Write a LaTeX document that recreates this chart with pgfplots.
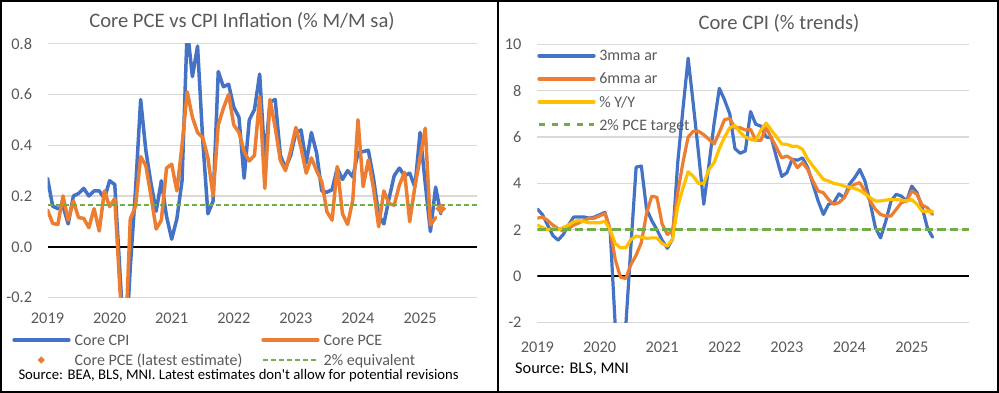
\documentclass[border=0pt]{standalone}
\usepackage{fontspec}
\setmainfont{Carlito}
\usepackage{pgfplots}
\pgfplotsset{compat=1.18}
\usepackage{pgfplotstable}

\definecolor{xblue}{HTML}{4472C4}
\definecolor{xorange}{HTML}{ED7D31}
\definecolor{xyellow}{HTML}{FFC000}
\definecolor{xgreen}{HTML}{70AD47}
\definecolor{xgrid}{HTML}{D9D9D9}
\definecolor{xtext}{HTML}{595959}

% Left chart: Core CPI m/m
\pgfplotstableread{
m v
0 0.27
1 0.16
2 0.15
3 0.16
4 0.09
5 0.20
6 0.21
7 0.23
8 0.20
9 0.22
10 0.22
11 0.19
12 0.26
13 0.245
14 -0.10
15 -0.45
16 -0.08
17 0.22
18 0.58
19 0.38
20 0.25
21 0.14
22 0.26
23 0.12
24 0.03
25 0.11
26 0.26
27 0.86
28 0.67
29 0.79
30 0.42
31 0.13
32 0.18
33 0.69
34 0.63
35 0.64
36 0.55
37 0.51
38 0.27
39 0.50
40 0.54
41 0.68
42 0.34
43 0.57
44 0.58
45 0.36
46 0.31
47 0.36
48 0.45
49 0.46
50 0.33
51 0.45
52 0.37
53 0.22
54 0.215
55 0.225
56 0.31
57 0.265
58 0.30
59 0.275
60 0.37
61 0.375
62 0.38
63 0.27
64 0.125
65 0.09
66 0.19
67 0.28
68 0.31
69 0.28
70 0.29
71 0.235
72 0.45
73 0.25
74 0.06
75 0.235
76 0.13
}\cpiL

% Left chart: Core PCE m/m
\pgfplotstableread{
m v
0 0.145
1 0.092
2 0.088
3 0.20
4 0.105
5 0.18
6 0.115
7 0.112
8 0.075
9 0.15
10 0.062
11 0.22
12 0.158
13 0.19
14 -0.17
15 -0.40
16 0.11
17 0.158
18 0.355
19 0.32
20 0.20
21 0.07
22 0.105
23 0.31
24 0.325
25 0.22
26 0.40
27 0.61
28 0.51
29 0.45
30 0.43
31 0.35
32 0.20
33 0.48
34 0.546
35 0.60
36 0.48
37 0.45
38 0.375
39 0.338
40 0.36
41 0.59
42 0.23
43 0.58
44 0.47
45 0.34
46 0.30
47 0.38
48 0.47
49 0.39
50 0.29
51 0.35
52 0.30
53 0.257
54 0.138
55 0.105
56 0.316
57 0.13
58 0.088
59 0.184
60 0.50
61 0.237
62 0.342
63 0.23
64 0.079
65 0.22
66 0.17
67 0.164
68 0.243
69 0.293
70 0.099
71 0.237
72 0.35
73 0.467
74 0.086
75 0.115
}\pceL

% Right chart: 3mma ar, 6mma ar, y/y
\pgfplotstableread{
m b o y
0 2.9 2.5 2.2
1 2.65 2.55 2.1
2 2.2 2.4 2.0
3 1.75 2.2 2.05
4 1.55 2.05 2.0
5 1.8 1.95 2.1
6 2.2 2.05 2.2
7 2.55 2.2 2.35
8 2.55 2.3 2.4
9 2.55 2.4 2.35
10 2.5 2.5 2.3
11 2.55 2.5 2.3
12 2.65 2.6 2.3
13 2.75 2.7 2.37
14 2.0 2.0 2.0
15 -2.2 0.7 1.4
16 -3.3 -0.05 1.22
17 -2.2 -0.1 1.22
18 1.3 0.5 1.58
19 4.7 0.9 1.73
20 4.75 1.45 1.68
21 2.9 2.7 1.63
22 2.4 3.45 1.65
23 2.0 3.4 1.65
24 1.55 2.25 1.4
25 1.2 1.8 1.3
26 1.6 1.95 1.6
27 4.9 3.6 3.0
28 7.2 4.9 3.8
29 9.4 6.0 4.5
30 7.4 6.25 4.3
31 5.3 6.25 4.0
32 3.1 6.1 4.0
33 4.8 5.9 4.6
34 6.6 5.7 4.9
35 8.1 6.2 5.5
36 7.6 6.75 6.0
37 7.0 6.8 6.4
38 5.5 6.4 6.5
39 5.3 6.4 6.2
40 5.4 6.3 6.0
41 7.1 6.33 5.9
42 6.55 5.86 5.85
43 6.47 5.86 6.3
44 6.0 6.4 6.6
45 5.97 5.97 6.3
46 5.1 5.54 6.0
47 4.3 5.1 5.7
48 4.46 5.18 5.68
49 5.04 5.04 5.6
50 5.0 4.68 5.6
51 5.1 4.9 5.47
52 4.68 4.6 5.04
53 3.96 4.1 4.75
54 3.24 3.67 4.46
55 2.66 3.6 4.17
56 3.1 3.3 4.1
57 3.17 3.1 4.0
58 3.55 3.17 3.96
59 3.38 3.38 3.88
60 3.96 3.8 3.84
61 4.24 3.96 3.78
62 4.6 4.03 3.7
63 4.1 3.67 3.55
64 3.17 3.24 3.38
65 2.09 2.88 3.24
66 1.65 2.66 3.24
67 2.37 2.59 3.28
68 3.24 2.59 3.3
69 3.53 2.88 3.3
70 3.45 3.17 3.28
71 3.24 3.24 3.24
72 3.88 3.67 3.3
73 3.6 3.53 3.1
74 2.95 3.06 2.8
75 2.09 2.95 2.8
76 1.68 2.66 2.8
}\trendR

\pgfplotsset{
  chartbase/.style={
    scale only axis,
    xmin=0, xmax=83,
    axis line style={draw=none},
    major tick length=0pt,
    xtick={0,12,24,36,48,60,72},
    xticklabels={2019,2020,2021,2022,2023,2024,2025},
    ymajorgrids,
    grid style={xgrid, line width=1.3pt},
    tick label style={font=\fontsize{16.3}{19}\selectfont, text=xtext, inner sep=0pt},
    /pgf/number format/assume math mode=true,
  },
}

\begin{document}
\begin{tikzpicture}[x=1pt,y=1pt]

% ---------------- Left chart ----------------
\begin{axis}[chartbase,
  at={(47.5pt,95.4pt)}, anchor=south west,
  width=429.5pt, height=254pt,
  ymin=-0.2, ymax=0.8,
  ytick={-0.2,0,0.2,0.4,0.6,0.8},
  yticklabels={-0.2,0.0,0.2,0.4,0.6,0.8},
  xticklabel style={anchor=base, yshift=-26pt},
  yticklabel style={anchor=east, xshift=-15.2pt},
  legend columns=2,
  legend style={at={(-0.08196,-0.13639)}, anchor=north west,
    draw=none, fill=none, inner sep=0pt, outer sep=0pt,
    row sep=4.2pt, column sep=0pt,
    font=\fontsize{16}{19}\selectfont, text=xtext,
    cells={anchor=west},
    nodes={inner sep=0pt, text height=13pt, text depth=2.7pt}},
]
\draw[black, line width=2.2pt] (axis cs:0,0) -- (axis cs:83,0);
\addplot[xblue, line width=3.5pt, line join=round, line cap=round,
  legend image code/.code={\draw[xblue, line width=4pt] (0pt,0pt) -- (54.4pt,0pt); \path[draw=none, fill=none] (0pt,0pt) -- (60.4pt,0pt);}]
  table[x=m, y=v] {\cpiL};
\addlegendentry{\makebox[186.6pt][l]{Core CPI}}
\addplot[xorange, line width=3.5pt, line join=round, line cap=round,
  legend image code/.code={\draw[xorange, line width=4pt] (0pt,0pt) -- (54.4pt,0pt); \path[draw=none, fill=none] (0pt,0pt) -- (60.4pt,0pt);}]
  table[x=m, y=v] {\pceL};
\addlegendentry{Core PCE}
\addplot[only marks, mark=square*, mark size=3.6pt, mark options={rotate=45, fill=xorange, draw=xorange},
  legend image code/.code={\fill[xorange, draw=none] (27pt,3.6pt) -- (30.6pt,0pt) -- (27pt,-3.6pt) -- (23.4pt,0pt) -- cycle; \path[draw=none, fill=none] (0pt,0pt) -- (60.4pt,0pt);}]
  coordinates {(76,0.15)};
\addlegendentry{\makebox[186.6pt][l]{Core PCE (latest estimate)}}
\addplot[xgreen, line width=1.7pt, dash pattern=on 5pt off 3pt,
  legend image code/.code={\draw[xgreen, line width=1.7pt, dash pattern=on 5pt off 3pt] (0pt,0pt) -- (54.4pt,0pt); \path[draw=none, fill=none] (0pt,0pt) -- (60.4pt,0pt);}]
  coordinates {(0,0.165) (83,0.165)};
\addlegendentry{2\% equivalent}
\end{axis}

% ---------------- Right chart ----------------
\begin{axis}[chartbase,
  at={(537.3pt,70.5pt)}, anchor=south west,
  width=431.7pt, height=278.2pt,
  ymin=-2, ymax=10,
  ytick={-2,0,2,4,6,8,10},
  yticklabels={-2,0,2,4,6,8,10},
  xticklabel style={anchor=base, yshift=-30.5pt},
  yticklabel style={anchor=east, xshift=-15.6pt},
  legend style={at={(0,0.98724)}, anchor=north west,
    draw=none, fill=none, inner sep=0pt, outer sep=0pt,
    row sep=7.4pt, column sep=0pt,
    font=\fontsize{16}{19}\selectfont, text=xtext,
    cells={anchor=west},
    nodes={inner sep=0pt, text height=13pt, text depth=2.7pt}},
]
\draw[black, line width=2.2pt] (axis cs:0,0) -- (axis cs:83,0);
\addplot[xblue, line width=3.2pt, line join=round, line cap=round,
  legend image code/.code={\draw[xblue, line width=4pt] (0pt,0pt) -- (54.4pt,0pt); \path[draw=none, fill=none] (0pt,0pt) -- (60pt,0pt);}]
  table[x=m, y=b] {\trendR};
\addlegendentry{3mma ar}
\addplot[xorange, line width=3.2pt, line join=round, line cap=round,
  legend image code/.code={\draw[xorange, line width=4pt] (0pt,0pt) -- (54.4pt,0pt); \path[draw=none, fill=none] (0pt,0pt) -- (60pt,0pt);}]
  table[x=m, y=o] {\trendR};
\addlegendentry{6mma ar}
\addplot[xyellow, line width=3.2pt, line join=round, line cap=round,
  legend image code/.code={\draw[xyellow, line width=4pt] (0pt,0pt) -- (54.4pt,0pt); \path[draw=none, fill=none] (0pt,0pt) -- (60pt,0pt);}]
  table[x=m, y=y] {\trendR};
\addlegendentry{\% Y/Y}
\addplot[xgreen, line width=3pt, dash pattern=on 8.5pt off 4pt,
  legend image code/.code={\draw[xgreen, line width=3pt, dash pattern=on 6pt off 6.5pt] (0pt,0pt) -- (54.4pt,0pt); \path[draw=none, fill=none] (0pt,0pt) -- (60pt,0pt);}]
  coordinates {(0,2) (83,2)};
\addlegendentry{2\% PCE target}
\end{axis}

% ---------------- Titles, sources, frames ----------------
\node[anchor=base, inner sep=0pt, font=\fontsize{20.6}{24}\selectfont, text=xtext] at (242pt,365.3pt) {Core PCE vs CPI Inflation (\% M/M sa)};
\node[anchor=base, inner sep=0pt, font=\fontsize{20.6}{24}\selectfont, text=xtext] at (779pt,363.7pt) {Core CPI (\% trends)};
\node[anchor=base west, inner sep=0pt, font=\fontsize{14.7}{17}\selectfont] at (18.3pt,13pt) {Source: BEA, BLS, MNI. Latest estimates don\textquotesingle t allow for potential revisions};
\node[anchor=base west, inner sep=0pt, font=\fontsize{16.3}{19}\selectfont] at (515pt,19pt) {Source: BLS, MNI};

\draw[black, line width=2.2pt] (1.1pt,1.2pt) rectangle (997.9pt,391.8pt);
\draw[black, line width=2pt] (497.5pt,1.2pt) -- (497.5pt,391.8pt);

\pgfresetboundingbox
\path[use as bounding box] (0pt,0pt) rectangle (999pt,393pt);
\end{tikzpicture}
\end{document}
